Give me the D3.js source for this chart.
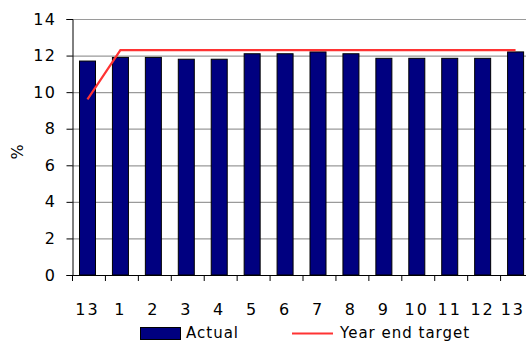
<!DOCTYPE html>
<html>
<head>
<meta charset="utf-8">
<script src="https://cdn.jsdelivr.net/npm/d3@7"></script>
<style>
  html, body { margin: 0; padding: 0; background: #fff; overflow: hidden; }
  svg { display: block; }
  text { font-family: "DejaVu Sans", Verdana, sans-serif; fill: #000; }
</style>
</head>
<body>
<svg id="chart" width="526" height="342"></svg>
<script>
// Monthly capital ratio vs year end target
const categories = ["13", "1", "2", "3", "4", "5", "6", "7", "8", "9", "10", "11", "12", "13"];
const actual = [11.7, 11.9, 11.9, 11.8, 11.8, 12.1, 12.1, 12.2, 12.1, 11.85, 11.85, 11.85, 11.85, 12.2];
const target = [9.6, 12.3, 12.3, 12.3, 12.3, 12.3, 12.3, 12.3, 12.3, 12.3, 12.3, 12.3, 12.3, 12.3];
const yTicks = [0, 2, 4, 6, 8, 10, 12, 14];

const W = 526;
const svg = d3.select("#chart");
const plotLeft = 72, plotTop = 19, plotBottom = 275;
const band = 32.93;
const plotRight = plotLeft + band * categories.length;

const x = d3.scaleBand().domain(d3.range(categories.length)).range([plotLeft, plotRight]).padding(0);
const y = d3.scaleLinear().domain([0, 14]).range([plotBottom, plotTop]);

// gridlines
svg.append("g")
  .selectAll("line")
  .data(yTicks.filter(d => d > 0))
  .join("line")
  .attr("x1", plotLeft).attr("x2", plotRight)
  .attr("y1", d => y(d) + 0.5).attr("y2", d => y(d) + 0.5)
  .attr("stroke", "#9a9a9a").attr("stroke-width", 1.2);

// bars
svg.append("g")
  .selectAll("rect")
  .data(actual)
  .join("rect")
  .attr("x", (d, i) => x(i) + 7.5)
  .attr("width", 16)
  .attr("y", d => y(d))
  .attr("height", d => y(0) - y(d))
  .attr("fill", "#000080")
  .attr("stroke", "#000")
  .attr("stroke-width", 1);

// y axis
const yAxis = d3.axisLeft(y).tickValues(yTicks).tickSize(6).tickPadding(10).tickFormat(d3.format("d"));
const gy = svg.append("g").attr("transform", `translate(${plotLeft + 0.5},0)`).call(yAxis);
gy.select(".domain").attr("stroke", "#000");
gy.selectAll(".tick line").attr("stroke", "#000");
gy.selectAll(".tick text")
  .style("font-size", "16px")
  .style("letter-spacing", "1.5px")
  .style("font-family", "'DejaVu Sans', sans-serif");

// x axis with ticks at band boundaries
svg.append("line")
  .attr("x1", plotLeft).attr("x2", plotRight)
  .attr("y1", plotBottom + 0.5).attr("y2", plotBottom + 0.5)
  .attr("stroke", "#000");
svg.append("g")
  .selectAll("line")
  .data(d3.range(categories.length + 1))
  .join("line")
  .attr("x1", i => plotLeft + i * x.bandwidth() + 0.5)
  .attr("x2", i => plotLeft + i * x.bandwidth() + 0.5)
  .attr("y1", plotBottom).attr("y2", plotBottom + 6)
  .attr("stroke", "#000");
const xLabels = svg.append("g")
  .selectAll("text")
  .data(categories)
  .join("text")
  .attr("x", (d, i) => x(i) + x.bandwidth() / 2 - 1)
  .attr("y", 315)
  .attr("text-anchor", "middle")
  .style("font-size", "16px")
  .style("letter-spacing", "2px")
  .text(d => d);
// keep the rightmost label inside the drawing area
xLabels.each(function () {
  const bb = this.getBBox();
  const overflow = bb.x + bb.width - (W - 1);
  if (overflow > 0) d3.select(this).attr("x", +this.getAttribute("x") - overflow);
});

// target line
const line = d3.line()
  .x((d, i) => x(i) + x.bandwidth() / 2 - 1)
  .y(d => y(d));
svg.append("path")
  .datum(target)
  .attr("d", line)
  .attr("fill", "none")
  .attr("stroke", "#ff3333")
  .attr("stroke-width", 2.2);

// y axis title
svg.append("text")
  .attr("transform", "translate(23,152) rotate(-90)")
  .attr("text-anchor", "middle")
  .style("font-size", "16px")
  .text("%");

// legend
const lg = svg.append("g");
lg.append("rect")
  .attr("x", 140.5).attr("y", 327.5).attr("width", 40).attr("height", 12)
  .attr("fill", "#000080").attr("stroke", "#000");
lg.append("text")
  .attr("x", 186).attr("y", 338)
  .style("font-size", "15px").style("letter-spacing", "1px")
  .text("Actual");
lg.append("line")
  .attr("x1", 292).attr("x2", 333).attr("y1", 333.5).attr("y2", 333.5)
  .attr("stroke", "#ff3333").attr("stroke-width", 2.2);
lg.append("text")
  .attr("x", 340).attr("y", 338)
  .style("font-size", "15px").style("letter-spacing", "1px")
  .text("Year end target");
</script>
</body>
</html>
